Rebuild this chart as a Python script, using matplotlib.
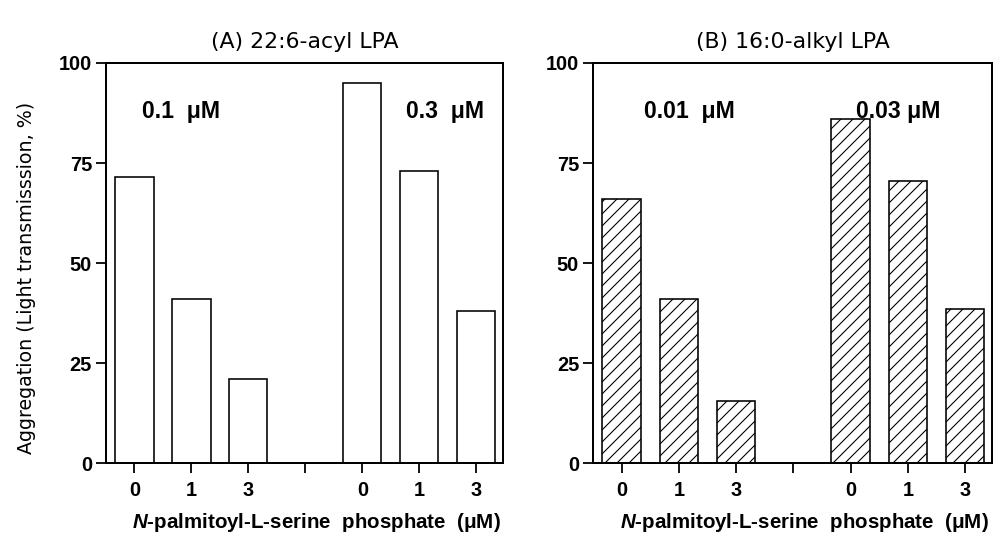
import matplotlib
matplotlib.use("Agg")
import matplotlib.pyplot as plt

# --- data -------------------------------------------------------------------
tick_labels = ["0", "1", "3", "", "0", "1", "3"]
bar_positions = [0, 1, 2, 4, 5, 6]

acyl_values = [71.5, 41, 21, 95, 73, 38]        # (A) 22:6-acyl LPA
alkyl_values = [66, 41, 15.5, 86, 70.5, 38.5]   # (B) 16:0-alkyl LPA

panel_titles = ["(A) 22:6-acyl LPA", "(B) 16:0-alkyl LPA"]
dose_labels = [("0.1  μM", "0.3  μM"), ("0.01  μM", "0.03 μM")]
dose_x = [(0.82, 5.46), (1.18, 4.83)]

y_ticks = [0, 25, 50, 75, 100]
y_label = "Aggregation (Light transmisssion, %)"
x_label = r"$\mathbfit{N}$-palmitoyl-L-serine  phosphate  (μM)"

# at 72 dpi one point is one pixel
plt.rcParams["font.family"] = ["Liberation Sans", "DejaVu Sans"]
plt.rcParams["mathtext.fontset"] = "custom"
plt.rcParams["mathtext.bfit"] = "Liberation Sans:italic:bold"
plt.rcParams["hatch.linewidth"] = 1.1

W, H = 1003, 537
fig = plt.figure(figsize=(W / 72, H / 72), dpi=72)

axes_px = [(106, 503), (593, 992)]
top_px, bottom_px = 63, 463.3

for i, (left, right) in enumerate(axes_px):
    ax = fig.add_axes([left / W, 1 - bottom_px / H, (right - left) / W,
                       (bottom_px - top_px) / H])
    vals = acyl_values if i == 0 else alkyl_values
    ax.bar(bar_positions, vals, width=0.67, facecolor="white",
           edgecolor="black", linewidth=1.6,
           hatch="//" if i == 1 else None)
    ax.set_xlim(-0.5, 6.47)
    ax.set_ylim(0, 100)
    ax.set_yticks(y_ticks)
    ax.set_xticks(range(len(tick_labels)))
    ax.set_xticklabels(tick_labels)
    for s in ax.spines.values():
        s.set_linewidth(2)
    ax.tick_params(axis="y", direction="out", length=10, width=1.8, pad=4,
                   labelsize=20)
    ax.tick_params(axis="x", direction="out", length=10, width=1.8, pad=8,
                   labelsize=20)
    for lab in ax.get_xticklabels() + ax.get_yticklabels():
        lab.set_fontweight("bold")

    for txt, xd in zip(dose_labels[i], dose_x[i]):
        ax.text(xd, 88, txt, ha="center", va="center", fontsize=23,
                fontweight="bold")

    cx = (left + right) / 2
    fig.text(cx / W, 1 - 42 / H, panel_titles[i], ha="center", va="center",
             fontsize=22, family=["DejaVu Sans"])
    fig.text((cx + 12) / W, 1 - 522 / H, x_label, ha="center", va="center",
             fontsize=20.5, fontweight="bold")

fig.text(27 / W, 1 - 278 / H, y_label, rotation=90, ha="center",
         va="center", fontsize=19, family=["DejaVu Sans"])

fig.savefig("out.png", dpi=72)
